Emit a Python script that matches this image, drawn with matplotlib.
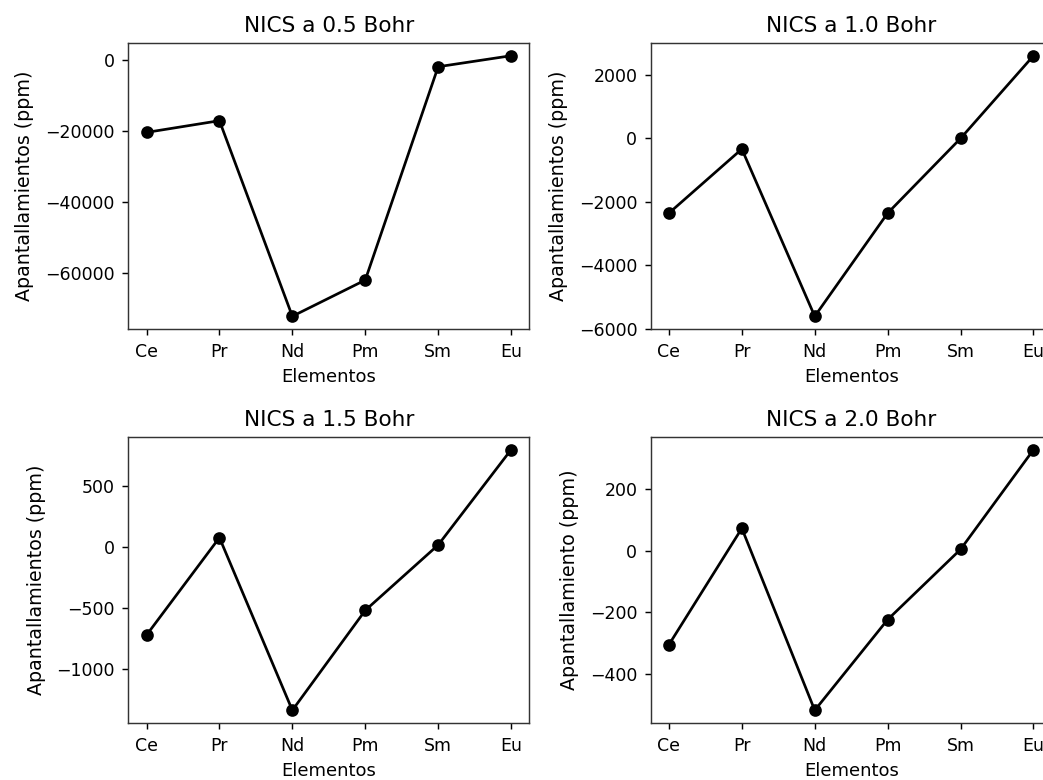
import matplotlib
matplotlib.use("Agg")
import matplotlib.pyplot as plt

elementos = ["Ce", "Pr", "Nd", "Pm", "Sm", "Eu"]
nics_05 = [-20500, -17200, -72300, -62100, -2000, 1100]
nics_10 = [-2360, -340, -5610, -2360, -5, 2600]
nics_15 = [-721, 76, -1336, -519, 16, 795]
nics_20 = [-304, 72, -516, -223, 4, 326]

titles = ["NICS a 0.5 Bohr", "NICS a 1.0 Bohr", "NICS a 1.5 Bohr", "NICS a 2.0 Bohr"]
ylabels = ["Apantallamientos (ppm)", "Apantallamientos (ppm)",
           "Apantallamientos (ppm)", "Apantallamiento (ppm)"]
series = [nics_05, nics_10, nics_15, nics_20]

fig = plt.figure(figsize=(1043 / 130, 780 / 130), dpi=130)
W = 401 / 1043
H = 286.6 / 780
positions = [
    (128.3 / 1043, 1 - 329.3 / 780),
    (650.7 / 1043, 1 - 329.3 / 780),
    (128.3 / 1043, 1 - 723.3 / 780),
    (650.7 / 1043, 1 - 723.3 / 780),
]

for (l, b), vals, t, yl in zip(positions, series, titles, ylabels):
    ax = fig.add_axes([l, b, W, H])
    ax.plot(elementos, vals, color="black", marker="o")
    ax.set_title(t, fontsize=12)
    ax.set_xlabel("Elementos", fontsize=10)
    ax.set_ylabel(yl, fontsize=10.5, labelpad=6)
    ax.tick_params(axis="both", labelsize=9.6, length=3.2, pad=4.2)
    for sp in ax.spines.values():
        sp.set_color("#333333")

fig.savefig("out.png", dpi=130)
